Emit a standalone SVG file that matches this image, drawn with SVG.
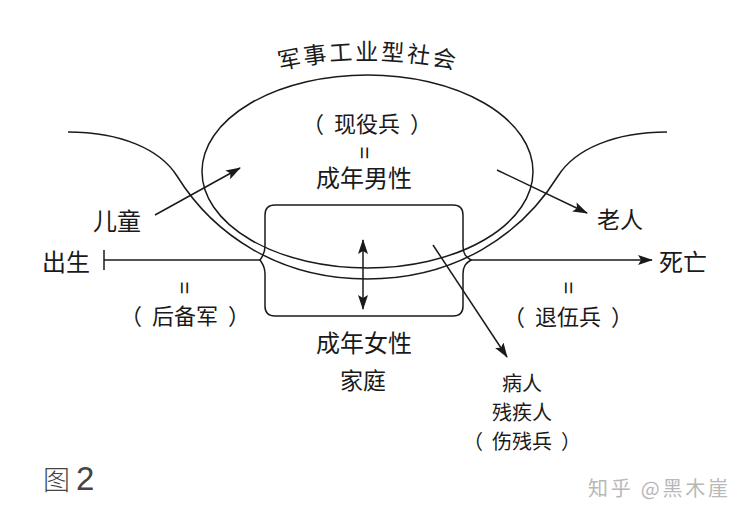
<svg xmlns="http://www.w3.org/2000/svg" width="749" height="521" viewBox="0 0 749 521">
<style>
.ln{fill:none;stroke:#1a1a1a;stroke-width:1.5}
.t{font-family:"Noto Sans CJK SC","Noto Sans",sans-serif;fill:#1a1a1a;text-anchor:middle}
.eq{font-family:"Liberation Sans",sans-serif;fill:#1a1a1a;font-size:22px;text-anchor:middle}
</style>
<defs>
<marker id="ah" markerUnits="userSpaceOnUse" markerWidth="16" markerHeight="12" refX="14" refY="5" orient="auto-start-reverse" viewBox="0 0 16 10">
<path d="M0,0 L15,5 L0,10 L3,5 Z" fill="#1a1a1a"/>
</marker>
<path id="titleArc" d="M268,72.6 A402,402 0 0 1 468,72.6"/>
</defs>
<rect width="749" height="521" fill="#fff"/>

<g id="society">
<ellipse class="ln" cx="367.5" cy="171.5" rx="165.5" ry="96.5"/>
<text class="t" font-size="23" letter-spacing="2.5"><textPath href="#titleArc" startOffset="50%">军事工业型社会</textPath></text>
</g>

<g id="lifecurve">
<path class="ln" d="M68,132 C120,132 160,149 177,176 C214,235.5 280,279 367,279 C455,279 521,235.5 558,176 C575,149 615,132 667,132"/>
</g>

<g id="family">
<path class="ln" d="M275,205 L453,205 Q463,205 463,215 L463,246 C463,254 466,257 471,260 C466,263 463,266 463,274 L463,306 Q463,316 453,316 L275,316 Q265,316 265,306 L265,274 C265,266 262,263 260,260 C262,257 265,254 265,246 L265,215 Q265,205 275,205 Z"/>
</g>

<g id="connectors">
<line class="ln" x1="104" y1="260" x2="260" y2="260"/>
<line class="ln" x1="104" y1="250" x2="104" y2="270"/>
<line class="ln" x1="471" y1="260" x2="652" y2="260" marker-end="url(#ah)"/>
<line class="ln" x1="155" y1="215" x2="240" y2="168" marker-end="url(#ah)"/>
<line class="ln" x1="497" y1="170" x2="587" y2="213" marker-end="url(#ah)"/>
<line class="ln" x1="433" y1="245" x2="507" y2="357" marker-end="url(#ah)"/>
<line class="ln" x1="363" y1="240" x2="363" y2="309" marker-start="url(#ah)" marker-end="url(#ah)"/>
</g>

<g id="active">
<text class="t" x="367" y="132" font-size="22">（<tspan dx="10">现役兵</tspan><tspan dx="10">）</tspan></text>
<text class="eq" transform="translate(364,153) rotate(90)" y="7.5">=</text>
<text class="t" x="364" y="187" font-size="24">成年男性</text>
</g>
<g id="child"><text class="t" x="117" y="230" font-size="24">儿童</text></g>
<g id="birth"><text class="t" x="66" y="271" font-size="24">出生</text></g>
<g id="reserve">
<text class="eq" transform="translate(184,288) rotate(90)" y="7.5">=</text>
<text class="t" x="185" y="324" font-size="22">（<tspan dx="10">后备军</tspan><tspan dx="10">）</tspan></text>
</g>
<g id="elder"><text class="t" x="620" y="228" font-size="23">老人</text></g>
<g id="death"><text class="t" x="683" y="271" font-size="24">死亡</text></g>
<g id="veteran">
<text class="eq" transform="translate(568,288) rotate(90)" y="7.5">=</text>
<text class="t" x="568" y="325" font-size="22">（<tspan dx="10">退伍兵</tspan><tspan dx="10">）</tspan></text>
</g>
<g id="women">
<text class="t" x="364" y="352" font-size="24">成年女性</text>
<text class="t" x="363" y="389" font-size="23">家庭</text>
</g>
<g id="sick">
<text class="t" font-size="20"><tspan x="522" y="391">病人</tspan><tspan x="522" y="420">残疾人</tspan><tspan x="522" y="449">（<tspan dx="9">伤残兵</tspan><tspan dx="9">）</tspan></tspan></text>
</g>
<g id="caption">
<text x="43" y="490" font-family="'Noto Sans CJK SC','Noto Sans',sans-serif" font-size="27" font-weight="300" fill="#444">图<tspan dx="6" font-size="33" font-family="'Liberation Sans',sans-serif">2</tspan></text>
</g>
<g id="watermark">
<text x="588" y="496" font-family="'Noto Sans CJK SC','Noto Sans',sans-serif" font-size="20" fill="#b8b8b8" textLength="140">知乎 @黑木崖</text>
</g>
</svg>
